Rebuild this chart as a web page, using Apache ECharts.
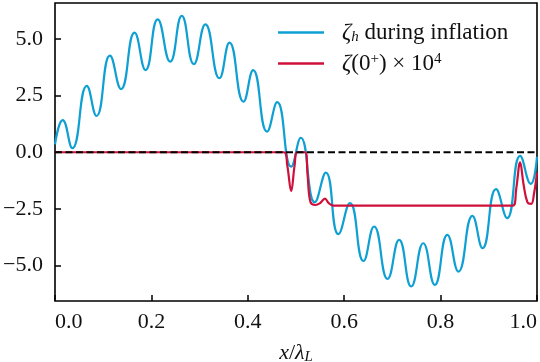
<!DOCTYPE html>
<html>
<head>
<meta charset="utf-8">
<script src="https://cdn.jsdelivr.net/npm/echarts@6.0.0/dist/echarts.min.js"></script>
<style>
  html, body { margin: 0; padding: 0; background: #fff; }
  #chart { width: 540px; height: 362px; }
</style>
</head>
<body>
<div id="chart"></div>
<script>
// zeta_h during inflation (x / lambda_L, value)
const blueX = [0.000, 0.016, 0.036, 0.066, 0.086, 0.114, 0.137, 0.165, 0.188, 0.213,
               0.239, 0.263, 0.288, 0.312, 0.341, 0.362, 0.391, 0.411, 0.440, 0.461,
               0.490, 0.510, 0.539, 0.562, 0.588, 0.612, 0.640, 0.662, 0.690, 0.714,
               0.739, 0.764, 0.788, 0.814, 0.837, 0.866, 0.887, 0.915, 0.938, 0.965,
               0.987, 1.000];
const blueY = [0.35, 1.42, 0.18, 2.93, 1.60, 4.27, 2.79, 5.28, 3.63, 5.87,
               4.00, 6.02, 3.89, 5.65, 3.27, 4.84, 2.23, 3.63, 0.91, 2.21,
               -0.64, 0.64, -2.21, -0.90, -3.62, -2.25, -4.80, -3.28, -5.59, -3.87,
               -5.93, -4.02, -5.86, -3.65, -5.27, -2.81, -4.24, -1.63, -2.91, -0.16,
               -1.40, -0.20];

// zeta(0+) x 10^4
const redX = [0.000, 0.475, 0.482, 0.490, 0.497, 0.503, 0.519, 0.524, 0.530, 0.540,
              0.550, 0.560, 0.568, 0.578, 0.950, 0.957, 0.965, 0.972, 0.980, 0.988,
              0.994, 1.000];
const redY = [0.00, 0.00, -0.60, -1.72, -0.60, 0.00, 0.00, -1.00, -2.20, -2.33,
              -2.25, -2.05, -2.25, -2.36, -2.36, -1.60, -0.45, -1.40, -2.20, -2.28,
              -1.80, -0.90];

const xTicks = [0.0, 0.2, 0.4, 0.6, 0.8, 1.0];
const yTicks = [-5.0, -2.5, 0.0, 2.5, 5.0];

const seriesNames = ['{i|ζ}{s|h} during inflation', '{i|ζ}(0{p|+}) × 10{p|4}'];

const zip = (xs, ys) => xs.map((x, i) => [x, ys[i]]);
const fmt = v => (v < 0 ? '\u2212' : '') + Math.abs(v).toFixed(1);

const font = 'Liberation Serif';
const fs = 22;
const makeRich = size => ({
    i: { fontFamily: font, fontStyle: 'italic', fontSize: size, color: '#111' },
    s: { fontFamily: font, fontStyle: 'italic', fontSize: 15, color: '#111', verticalAlign: 'bottom', padding: [9, 0, 0, 0] },
    p: { fontFamily: font, fontSize: 15, color: '#111', verticalAlign: 'top', padding: [0, 0, 9, 0] }
});

const chart = echarts.init(document.getElementById('chart'), null, { renderer: 'canvas' });

const option = {
    animation: false,
    backgroundColor: '#fff',
    grid: {
        left: 55, right: 3, top: 3, bottom: 61,
        outerBoundsMode: 'none',
        show: true, borderColor: '#000', borderWidth: 1.6
    },
    legend: {
        orient: 'vertical',
        left: 273, top: 16,
        icon: 'rect',
        itemWidth: 46, itemHeight: 2.4, itemGap: 7,
        data: seriesNames,
        textStyle: { fontFamily: font, fontSize: 23, color: '#111', padding: [0, 0, 0, 13], rich: makeRich(23) }
    },
    xAxis: {
        type: 'value', min: 0, max: 1,
        axisLine: { show: false, onZero: false },
        splitLine: { show: false },
        axisTick: { inside: true, length: 6, lineStyle: { color: '#000', width: 1.5 }, customValues: xTicks },
        axisLabel: {
            customValues: xTicks, formatter: fmt, margin: 10,
            fontFamily: font, fontSize: fs, color: '#111',
            alignMinLabel: 'left', alignMaxLabel: 'right'
        },
        name: '{i|x}/{i|λ}{s|L}',
        nameLocation: 'middle', nameGap: 40,
        nameTextStyle: { fontFamily: font, fontSize: fs, color: '#111', rich: makeRich(fs) }
    },
    yAxis: {
        type: 'value', min: -6.57, max: 6.59,
        axisLine: { show: false, onZero: false },
        splitLine: { show: false },
        axisTick: { inside: true, length: 6, lineStyle: { color: '#000', width: 1.5 }, customValues: yTicks },
        axisLabel: {
            customValues: yTicks, formatter: fmt, margin: 12,
            fontFamily: font, fontSize: fs, color: '#111'
        }
    },
    series: [
        {
            name: seriesNames[0], type: 'line', z: 2,
            data: zip(blueX, blueY), symbol: 'none', smooth: 0.5,
            lineStyle: { color: '#0e9fd3', width: 2.2 }, itemStyle: { color: '#0e9fd3' }
        },
        {
            name: seriesNames[1], type: 'line', z: 3,
            data: zip(redX, redY), symbol: 'none', smooth: 0.4,
            lineStyle: { color: '#d0103a', width: 2.2 }, itemStyle: { color: '#d0103a' }
        },
        {
            name: 'zero', type: 'line', z: 4,
            data: [[0, 0], [1, 0]], symbol: 'none', silent: true,
            lineStyle: { color: '#000', width: 1.8, type: [7, 3.5] }
        }
    ]
};

chart.setOption(option);
</script>
</body>
</html>
